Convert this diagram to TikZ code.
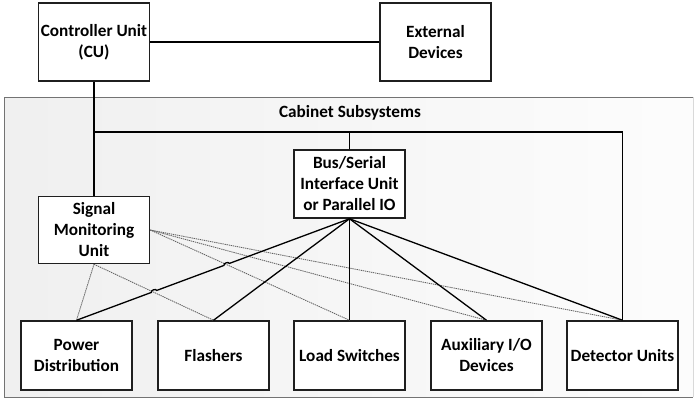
\documentclass[tikz,border=0pt]{standalone}
\usepackage{fontspec}
\setmainfont{Carlito}
\usetikzlibrary{calc}
\begin{document}
\begin{tikzpicture}[x=1pt,y=-1pt,
  box/.style={draw=black!88,line width=1.5pt,fill=white,minimum width=111pt,align=center,
     font=\fontsize{17.2}{21}\selectfont\bfseries,inner sep=1pt},
  solidline/.style={draw=black,line width=1.3pt},
  dotline/.style={draw=black!62,line width=0.85pt,dash pattern=on 1.3pt off 0.8pt}]
\useasboundingbox (0,0) rectangle (700,402);
% cabinet
\shade[left color=black!6,right color=black!1] (4,97) rectangle (693,397);
\draw[black!55,line width=0.9pt] (693,97) -- (4,97) -- (4,397) -- (693,397);
\draw[black!15,line width=0.8pt] (693,97) -- (693,397);
\node[font=\fontsize{17.2}{21}\selectfont\bfseries] (title) at (350,113) {Cabinet Subsystems};
% boxes
\node[box,minimum height=78pt] (cu) at (94,42) {Controller Unit\\(CU)};
\node[box,minimum height=78pt] (ext) at (435.5,42) {External\\Devices};
\node[box,minimum height=67pt] (smu) at (94,230) {Signal\\Monitoring\\Unit};
\node[box,minimum height=68pt] (bus) at (349.5,184) {Bus/Serial\\Interface Unit\\or Parallel IO};
\node[box,minimum height=69pt] (pd) at (76.5,355.5) {Power\\Distribution};
\node[box,minimum height=69pt] (fl) at (213.5,355.5) {Flashers};
\node[box,minimum height=69pt] (ls) at (349.5,355.5) {Load Switches};
\node[box,minimum height=69pt] (aux) at (486.5,355.5) {Auxiliary I/O\\Devices};
\node[box,minimum height=69pt] (det) at (622.5,355.5) {Detector Units};
\coordinate (jl) at (94,132);
\coordinate (jr) at (622.5,132);
% dotted connectors
\draw[dotline] (smu.south) -- (pd.north);
\draw[dotline] (smu.south) -- (fl.north);
\draw[dotline] (smu.east) -- (ls.north);
\draw[dotline] (smu.east) -- (aux.north);
\draw[dotline] (smu.east) -- (det.north);
% solid connectors
\draw[solidline] (cu.east) -- (ext.west);
\draw[solidline] (cu.south) -- (smu.north);
\draw[solidline] (jl) -- (jr) -- (det.north);
\draw[solidline] (bus.north) -- (bus.north |- jl);
\draw[solidline] (bus.south) -- ($(bus.south)!0.44!(pd.north)$)
   to[bend right=90] ($(bus.south)!0.46!(pd.north)$)
   -- ($(bus.south)!0.706!(pd.north)$)
   to[bend right=90] ($(bus.south)!0.726!(pd.north)$)
   -- (pd.north);
\draw[solidline] (bus.south) -- (fl.north);
\draw[solidline] (bus.south) -- (ls.north);
\draw[solidline] (bus.south) -- (aux.north);
\draw[solidline] (bus.south) -- (det.north);
\end{tikzpicture}
\end{document}
